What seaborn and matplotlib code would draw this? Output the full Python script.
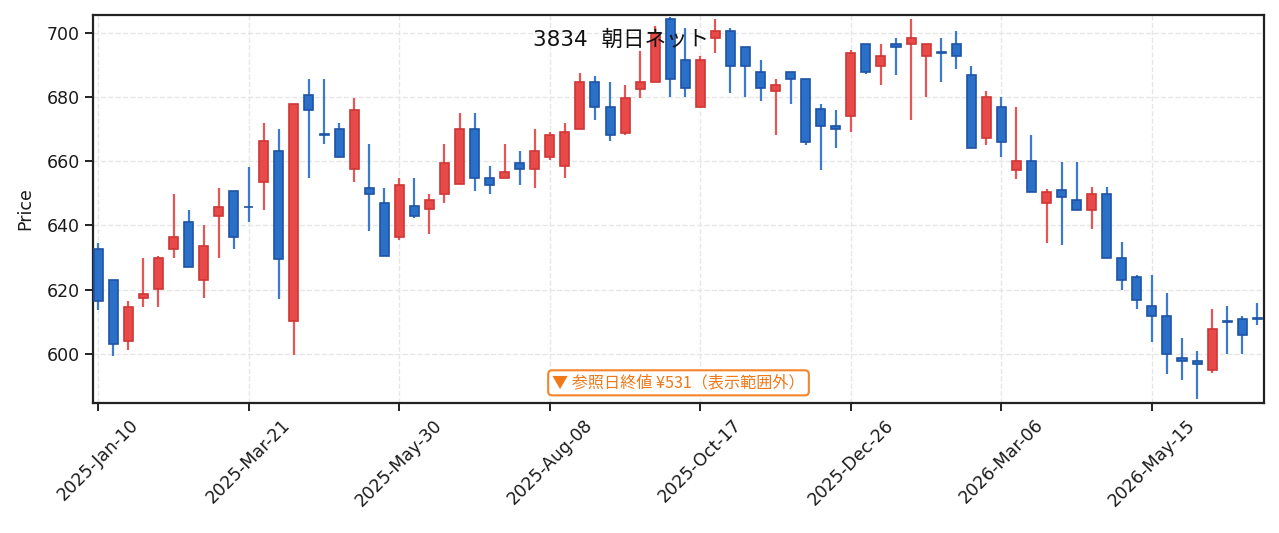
import matplotlib
matplotlib.use("Agg")
import matplotlib.pyplot as plt
import seaborn as sns
import numpy as np

# weekly candles
opens = [632.7, 623.1, 603.9, 617.3, 620.1, 632.6, 641.1, 623.0, 642.9, 650.8,
         645.8, 653.5, 663.1, 610.2, 680.6, 668.3, 670.1, 657.5, 651.7, 647.0,
         636.3, 646.1, 645.1, 649.7, 653.0, 670.1, 654.8, 654.7, 659.5, 657.4,
         661.3, 658.5, 670.0, 684.7, 676.9, 668.8, 682.5, 684.6, 704.4, 691.6,
         676.8, 698.3, 700.6, 695.6, 687.9, 681.8, 687.9, 685.7, 676.1, 671.0,
         674.0, 696.6, 689.6, 696.6, 696.5, 692.7, 693.9, 696.6, 686.9, 667.2,
         676.9, 657.2, 660.1, 647.1, 651.1, 648.0, 644.8, 649.8, 629.9, 624.0,
         615.0, 611.9, 598.8, 597.8, 594.9, 610.1, 610.9, 611.0]
highs = [634.5, 623.1, 616.4, 629.8, 630.6, 649.7, 644.8, 640.1, 651.5, 650.8,
         658.2, 671.8, 670.0, 677.8, 685.6, 685.6, 671.8, 679.5, 665.3, 651.5,
         654.6, 654.6, 649.7, 665.3, 675.0, 675.0, 658.5, 665.3, 663.0, 670.0,
         669.1, 671.8, 687.4, 686.4, 684.6, 683.6, 694.3, 702.0, 704.8, 701.3,
         692.6, 704.2, 701.3, 695.6, 691.5, 685.6, 687.9, 685.7, 677.8, 675.9,
         694.6, 696.6, 696.5, 698.3, 704.2, 696.6, 698.3, 700.5, 689.6, 681.8,
         680.0, 676.8, 668.1, 651.3, 659.7, 659.7, 651.8, 651.8, 634.8, 624.7,
         624.7, 618.9, 604.8, 600.8, 613.9, 614.8, 611.7, 615.8]
lows = [613.7, 599.4, 601.2, 614.6, 614.6, 629.9, 627.0, 617.4, 629.9, 632.7,
        641.1, 644.9, 617.1, 599.7, 654.8, 665.4, 661.3, 653.6, 638.3, 630.4,
        635.5, 642.2, 637.4, 647.0, 653.0, 650.8, 649.8, 654.7, 652.6, 651.7,
        660.4, 654.8, 670.0, 672.9, 666.4, 668.2, 679.8, 684.6, 680.1, 680.1,
        676.8, 693.8, 681.1, 680.1, 678.8, 668.2, 677.9, 665.1, 657.3, 664.2,
        669.2, 687.0, 683.8, 686.9, 672.9, 680.1, 684.7, 688.8, 664.1, 665.1,
        661.4, 654.5, 650.4, 634.6, 634.0, 644.8, 638.9, 629.8, 619.8, 614.0,
        603.7, 593.8, 592.0, 586.0, 593.9, 600.0, 600.0, 609.1]
closes = [616.4, 603.1, 614.6, 618.5, 629.9, 636.4, 627.0, 633.6, 645.7, 636.3,
          645.6, 666.4, 629.5, 677.8, 675.9, 668.1, 661.3, 676.0, 649.7, 630.4,
          652.6, 642.9, 648.0, 659.5, 670.1, 654.7, 652.5, 656.7, 657.5, 663.2,
          668.2, 669.2, 684.7, 676.8, 668.1, 679.8, 684.7, 700.0, 685.6, 682.8,
          691.6, 700.6, 689.6, 689.5, 682.8, 683.8, 685.6, 665.8, 670.9, 670.0,
          693.8, 687.7, 692.8, 695.5, 698.4, 696.6, 693.7, 692.7, 664.1, 680.1,
          665.9, 660.1, 650.4, 650.5, 648.8, 644.8, 649.8, 629.8, 623.0, 616.7,
          611.7, 599.9, 597.7, 596.9, 607.8, 609.9, 605.8, 610.8]

tick_pos = [0, 10, 20, 30, 40, 50, 60, 70]
tick_labels = ["2025-Jan-10", "2025-Mar-21", "2025-May-30", "2025-Aug-08",
               "2025-Oct-17", "2025-Dec-26", "2026-Mar-06", "2026-May-15"]
y_ticks = [600, 620, 640, 660, 680, 700]

title = "3834  朝日ネット"
note = "▼ 参照日終値 ¥531（表示範囲外）"

sns.set_theme(style="ticks")
plt.rcParams["font.family"] = ["DejaVu Sans", "Noto Sans CJK JP"]

UP_FILL, UP_EDGE, UP_WICK = "#E84A4A", "#D03636", "#E55656"
DN_FILL, DN_EDGE, DN_WICK = "#2A6FC8", "#1E53A6", "#3A7BCD"

fig, ax = plt.subplots(figsize=(12.79, 5.33), dpi=100)
fig.subplots_adjust(left=0.0727, right=0.9883, top=0.9719, bottom=0.2439)

x = np.arange(len(opens))
o = np.array(opens)
c = np.array(closes)
up = c >= o

# wicks
ax.vlines(x[up], np.array(lows)[up], np.array(highs)[up], color=UP_WICK, lw=1.6, zorder=2)
ax.vlines(x[~up], np.array(lows)[~up], np.array(highs)[~up], color=DN_WICK, lw=1.6, zorder=2)

# bodies
body_lo = np.minimum(o, c)
body_h = np.maximum(np.abs(c - o), 0.25)
ax.bar(x[up], body_h[up], bottom=body_lo[up], width=0.6, color=UP_FILL,
       edgecolor=UP_EDGE, linewidth=1.2, zorder=3)
ax.bar(x[~up], body_h[~up], bottom=body_lo[~up], width=0.6, color=DN_FILL,
       edgecolor=DN_EDGE, linewidth=1.2, zorder=3)

ax.set_xlim(-0.35, 77.45)
ax.set_ylim(584.7, 705.5)
ax.set_xticks(tick_pos)
ax.set_xticklabels(tick_labels, rotation=45, fontsize=12.5)
ax.set_yticks(y_ticks)
ax.tick_params(axis="y", labelsize=12.5)
ax.tick_params(length=6, width=1.4, color="#222222", labelcolor="#1a1a1a")
ax.set_ylabel("Price", fontsize=12.5, labelpad=9, color="#1a1a1a")
ax.set_xlabel("")

ax.grid(True, linestyle="--", color="#e6e6e6", linewidth=1.0, zorder=0)
ax.set_axisbelow(True)
for s in ax.spines.values():
    s.set_color("#222222")
    s.set_linewidth(1.6)

fig.text(0.4856, 0.925, title, fontsize=15.5, ha="center", va="center",
         color="#111111", zorder=10, family=["DejaVu Sans", "Noto Sans CJK JP"])

ax.text(0.5, 0.052, note, transform=ax.transAxes, ha="center", va="center",
        fontsize=11.6, color="#F07818", zorder=10,
        family=["Noto Sans CJK JP", "DejaVu Sans"],
        bbox=dict(boxstyle="round,pad=0.25", fc="white", ec="#F5842A", lw=1.5))

fig.savefig("out.png", dpi=100)
